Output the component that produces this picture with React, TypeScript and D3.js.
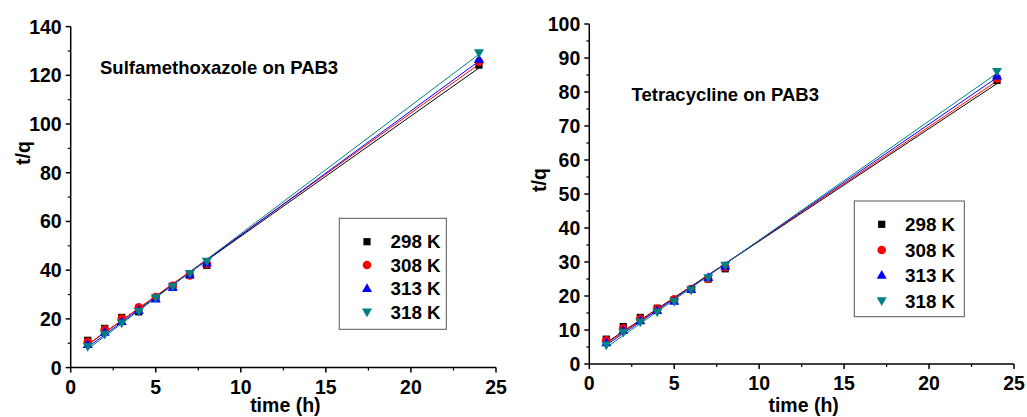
import React from "react";
import * as d3 from "d3";

const times = [1, 2, 3, 4, 5, 6, 7, 8, 24];
const temps = ["298 K", "308 K", "313 K", "318 K"];
const colors = ["#000000", "#ff0000", "#0000ff", "#008080"];

// Sulfamethoxazole t/q per temperature
const smx298 = [11.2, 16.1, 20.6, 22.9, 28.6, 33.4, 38.0, 42.0, 124.2];
const smx308 = [10.6, 15.6, 20.1, 24.8, 29.0, 33.6, 37.8, 42.6, 125.6];
const smx313 = [9.6, 14.6, 19.0, 23.6, 28.2, 33.0, 38.2, 43.0, 126.6];
const smx318 = [8.6, 13.6, 18.2, 23.0, 28.6, 33.2, 38.6, 43.6, 129.2];

// Tetracycline t/q per temperature
const tc298 = [7.3, 11.0, 13.7, 16.4, 18.8, 22.0, 25.0, 28.0, 83.4];
const tc308 = [7.0, 10.5, 13.3, 16.2, 19.0, 22.0, 25.0, 28.5, 84.0];
const tc313 = [6.3, 10.0, 12.8, 15.8, 18.5, 22.0, 25.5, 28.8, 84.8];
const tc318 = [5.5, 9.3, 12.3, 15.2, 18.3, 21.7, 25.3, 29.0, 86.0];

const xTicks = [0, 5, 10, 15, 20, 25];
const smxTicks = [0, 20, 40, 60, 80, 100, 120, 140];
const tcTicks = [0, 10, 20, 30, 40, 50, 60, 70, 80, 90, 100];

const FONT = "'Liberation Sans', Arial, sans-serif";

// least squares line through one series
function fit(xs: number[], ys: number[]) {
  const mx = d3.mean(xs)!;
  const my = d3.mean(ys)!;
  let sxy = 0, sxx = 0;
  xs.forEach((x, i) => {
    sxy += (x - mx) * (ys[i] - my);
    sxx += (x - mx) * (x - mx);
  });
  const b = sxy / sxx;
  return { b, a: my - b * mx };
}

function Marker({ kind, x, y, color }: { kind: number; x: number; y: number; color: string }) {
  if (kind === 0) return <rect x={x - 3.6} y={y - 3.6} width={7.2} height={7.2} fill={color} />;
  if (kind === 1) return <circle cx={x} cy={y} r={4.3} fill={color} />;
  if (kind === 2)
    return <path d={`M${x},${y - 5}L${x + 5},${y + 3.7}L${x - 5},${y + 3.7}Z`} fill={color} />;
  return <path d={`M${x},${y + 5}L${x + 5},${y - 3.7}L${x - 5},${y - 3.7}Z`} fill={color} />;
}

function Panel(props: {
  series: number[][];
  yMax: number;
  yTicks: number[];
  yMinorStep: number;
  x0: number;
  x1: number;
  y0: number;
  y1: number;
  title: string;
  titleX: number;
  titleY: number;
  legend: { x: number; y: number; w: number; h: number; rows: number[]; symX: number; textX: number };
  yLabelX: number;
  yLabelY: number;
}) {
  const { series, yMax, yTicks, yMinorStep, x0, x1, y0, y1, legend } = props;
  const xs = d3.scaleLinear().domain([0, 25]).range([x0, x1]);
  const ys = d3.scaleLinear().domain([0, yMax]).range([y0, y1]);
  const xMinor = d3.range(0, 25.01, 2.5).filter((v) => !xTicks.includes(v));
  const yMinor = d3.range(0, yMax + 0.01, yMinorStep).filter((v) => !yTicks.includes(v));

  return (
    <g>
      {series.map((vals, i) => {
        const { a, b } = fit(times, vals);
        const path = d3
          .line<number>()
          .x((t) => xs(t))
          .y((t) => ys(a + b * t))([1, 24]);
        return <path key={"l" + i} d={path!} stroke={colors[i]} strokeWidth={1} fill="none" />;
      })}
      {series.map((vals, i) =>
        vals.map((v, j) => <Marker key={i + "-" + j} kind={i} x={xs(times[j])} y={ys(v)} color={colors[i]} />)
      )}
      {/* axes */}
      <line x1={x0} x2={x0} y1={y1} y2={y0} stroke="#000" strokeWidth={1.5} />
      <line x1={x0} x2={x1} y1={y0} y2={y0} stroke="#000" strokeWidth={1.5} />
      {yTicks.map((t) => (
        <g key={"yt" + t}>
          <line x1={x0 - 5} x2={x0} y1={ys(t)} y2={ys(t)} stroke="#000" strokeWidth={1.5} />
          <text x={x0 - 9} y={ys(t) + 7} textAnchor="end" fontSize={19.5} fontWeight="bold" fontFamily={FONT}>
            {t}
          </text>
        </g>
      ))}
      {yMinor.map((t) => (
        <line key={"ym" + t} x1={x0 - 3} x2={x0} y1={ys(t)} y2={ys(t)} stroke="#000" strokeWidth={1.2} />
      ))}
      {xTicks.map((t) => (
        <g key={"xt" + t}>
          <line x1={xs(t)} x2={xs(t)} y1={y0} y2={y0 + 5} stroke="#000" strokeWidth={1.5} />
          <text x={xs(t)} y={y0 + 26} textAnchor="middle" fontSize={19.5} fontWeight="bold" fontFamily={FONT}>
            {t}
          </text>
        </g>
      ))}
      {xMinor.map((t) => (
        <line key={"xm" + t} x1={xs(t)} x2={xs(t)} y1={y0} y2={y0 + 3} stroke="#000" strokeWidth={1.2} />
      ))}
      <text
        x={(x0 + x1) / 2 + 2}
        y={412}
        textAnchor="middle"
        fontSize={19.5}
        fontWeight="bold"
        fontFamily={FONT}
      >
        time (h)
      </text>
      <text
        transform={`translate(${props.yLabelX},${props.yLabelY}) rotate(-90)`}
        textAnchor="middle"
        fontSize={19.5}
        fontWeight="bold"
        fontFamily={FONT}
      >
        t/q
      </text>
      <text x={props.titleX} y={props.titleY} fontSize={18.5} fontWeight="bold" fontFamily={FONT}>
        {props.title}
      </text>
      {/* legend */}
      <rect x={legend.x} y={legend.y} width={legend.w} height={legend.h} fill="#fff" stroke="#555" strokeWidth={1} />
      {temps.map((name, i) => (
        <g key={"lg" + i}>
          <Marker kind={i} x={legend.symX} y={legend.rows[i]} color={colors[i]} />
          <text
            x={legend.textX}
            y={legend.rows[i] + 6.5}
            fontSize={18.8}
            fontWeight="bold"
            fontFamily={FONT}
          >
            {name}
          </text>
        </g>
      ))}
    </g>
  );
}

export default function App() {
  return (
    <svg
      width={1027}
      height={417}
      style={{ position: "absolute", left: 0, top: 0, background: "#fff" }}
    >
      <Panel
        series={[smx298, smx308, smx313, smx318]}
        yMax={140}
        yTicks={smxTicks}
        yMinorStep={10}
        x0={70.7}
        x1={496}
        y0={367.6}
        y1={26.6}
        title="Sulfamethoxazole on PAB3"
        titleX={100}
        titleY={74}
        legend={{ x: 339.3, y: 218.3, w: 107, h: 111, rows: [241.7, 265, 288.3, 312.3], symX: 367, textX: 390.5 }}
        yLabelX={30}
        yLabelY={153}
      />
      <Panel
        series={[tc298, tc308, tc313, tc318]}
        yMax={100}
        yTicks={tcTicks}
        yMinorStep={5}
        x0={589.3}
        x1={1014}
        y0={364}
        y1={24}
        title="Tetracycline on PAB3"
        titleX={631.5}
        titleY={101}
        legend={{ x: 854.3, y: 201, w: 110, h: 115.7, rows: [224.3, 250, 275, 301], symX: 881.7, textX: 905 }}
        yLabelX={546}
        yLabelY={180}
      />
    </svg>
  );
}
